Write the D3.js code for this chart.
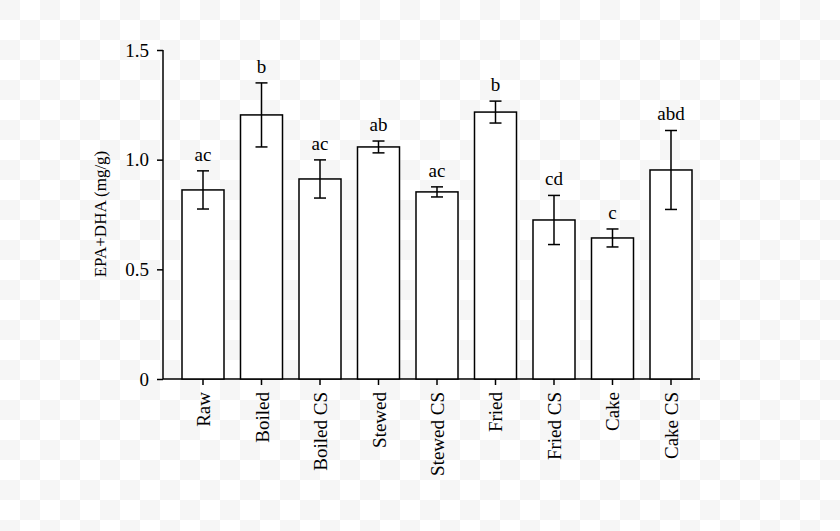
<!DOCTYPE html><html><head><meta charset="utf-8">
<script src="https://cdn.jsdelivr.net/npm/d3@7/dist/d3.min.js"></script>
<style>body{margin:0;background:#fff}</style></head><body>
<script>
const categories=["Raw","Boiled","Boiled CS","Stewed","Stewed CS","Fried","Fried CS","Cake","Cake CS"];
const values=[0.862,1.204,0.912,1.058,0.853,1.217,0.725,0.643,0.953];
const errors=[0.087,0.146,0.087,0.027,0.023,0.05,0.112,0.041,0.18];
const letters=["ac","b","ac","ab","ac","b","cd","c","abd"];
const yTicks=[0,0.5,1.0,1.5];
const yTickLabels=["0","0.5","1.0","1.5"];
const W=840,H=531;
const svg=d3.select("body").append("svg").attr("width",W).attr("height",H);
const pat=svg.append("defs").append("pattern").attr("id","ck").attr("width",40).attr("height",40).attr("patternUnits","userSpaceOnUse");
pat.append("rect").attr("width",40).attr("height",40).attr("fill","#fff");
pat.append("rect").attr("width",20).attr("height",20).attr("fill","#f6f6f6");
pat.append("rect").attr("x",20).attr("y",20).attr("width",20).attr("height",20).attr("fill","#f6f6f6");
svg.append("rect").attr("width",W).attr("height",H).attr("fill","url(#ck)");
const x=d3.scaleBand().domain(categories).range([182,692]).paddingInner(0.282).paddingOuter(0);
const y=d3.scaleLinear().domain([0,1.5]).range([379,50]);
const font="Liberation Serif";
const g=svg.append("g").style("font-family",font);
const ya=d3.axisLeft(y).tickValues(yTicks).tickFormat((d,i)=>yTickLabels[i]).tickSize(6).tickPadding(8);
const yg=g.append("g").attr("transform","translate(163,0)").call(ya);
yg.selectAll("text").attr("font-size",19).attr("font-family",font).attr("fill","#000");
yg.selectAll("line,path").attr("stroke","#000").attr("stroke-width",1.5);
yg.select(".domain").attr("d","M0,379V50");
g.append("line").attr("x1",163).attr("x2",700).attr("y1",379).attr("y2",379).attr("stroke","#000").attr("stroke-width",1.5);
categories.forEach((c,i)=>{
  const cx=x(c)+x.bandwidth()/2;
  g.append("rect").attr("x",x(c)).attr("width",x.bandwidth()).attr("y",y(values[i])).attr("height",y(0)-y(values[i])).attr("fill","#fff").attr("stroke","#000").attr("stroke-width",1.5);
  const t=y(values[i]+errors[i]),b=y(values[i]-errors[i]);
  g.append("line").attr("x1",cx).attr("x2",cx).attr("y1",t).attr("y2",b).attr("stroke","#000").attr("stroke-width",1.5);
  [t,b].forEach(v=>g.append("line").attr("x1",cx-6).attr("x2",cx+6).attr("y1",v).attr("y2",v).attr("stroke","#000").attr("stroke-width",1.5));
  g.append("text").attr("x",cx).attr("y",t-10).attr("text-anchor","middle").attr("font-size",19).text(letters[i]);
  g.append("line").attr("x1",cx).attr("x2",cx).attr("y1",379).attr("y2",385).attr("stroke","#000").attr("stroke-width",1.5);
  g.append("text").attr("transform",`translate(${cx+7},392) rotate(-90)`).attr("text-anchor","end").attr("font-size",19).text(c);
});
g.append("text").attr("transform","translate(106,214) rotate(-90)").attr("text-anchor","middle").attr("font-size",17).text("EPA+DHA (mg/g)");
</script></body></html>
